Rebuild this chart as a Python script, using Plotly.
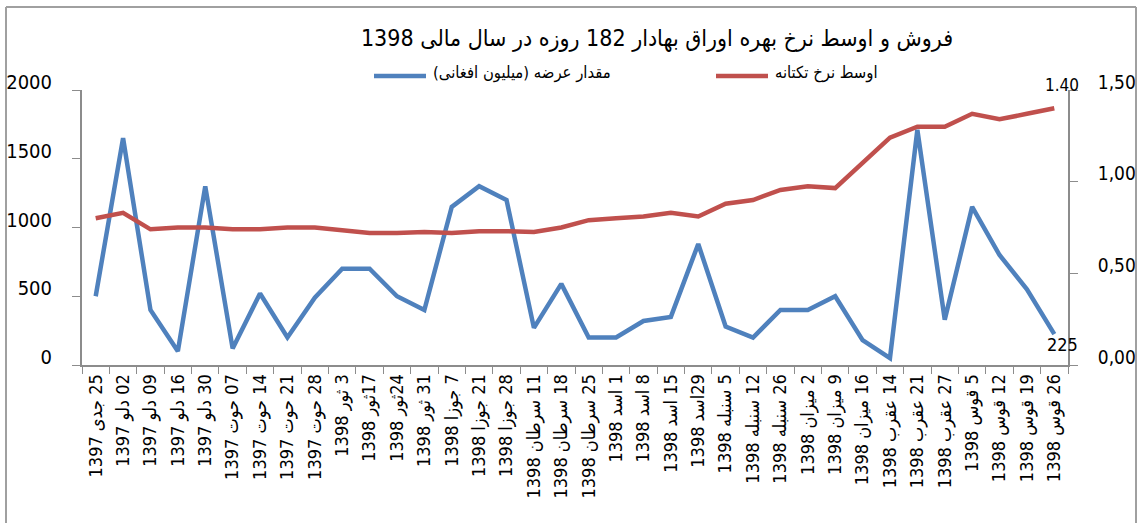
import plotly.graph_objects as go

# ── data ────────────────────────────────────────────────────────────────
dates = [
    "25 جدی 1397", "02 دلو 1397", "09 دلو 1397", "16 دلو 1397", "30 دلو 1397",
    "07 حوت 1397", "14 حوت 1397", "21 حوت 1397", "28 حوت 1397",
    "3 ثور 1398", "17ثور 1398", "24ثور 1398", "31 ثور 1398",
    "7 جوزا 1398", "21 جوزا 1398", "28 جوزا 1398",
    "11 سرطان 1398", "18 سرطان 1398", "25 سرطان 1398",
    "1 اسد 1398", "8 اسد 1398", "15 اسد 1398", "29اسد 1398",
    "5 سنبله 1398", "12 سنبله 1398", "26 سنبله 1398",
    "2 میزان 1398", "9 میزان 1398", "16 میزان 1398",
    "14 عقرب 1398", "21 عقرب 1398", "27 عقرب 1398",
    "5 قوس 1398", "12 قوس 1398", "19 قوس 1398", "26 قوس 1398",
]

offered = [  # مقدار عرضه (میلیون افغانی)
    500, 1650, 400, 100, 1300, 120, 520, 200, 490,
    700, 700, 500, 400, 1150, 1300, 1200, 270, 590,
    200, 200, 320, 350, 880, 280, 200, 400, 400,
    500, 180, 50, 1710, 330, 1150, 800, 550, 225,
]

avg_rate = [  # اوسط نرخ تکتانه
    0.80, 0.83, 0.74, 0.75, 0.75, 0.74, 0.74, 0.75, 0.75,
    0.735, 0.72, 0.72, 0.725, 0.72, 0.73, 0.73, 0.725, 0.75,
    0.79, 0.80, 0.81, 0.83, 0.81, 0.88, 0.90, 0.955, 0.975,
    0.965, 1.10, 1.24, 1.30, 1.30, 1.37, 1.34, 1.37, 1.40,
]

left_ticks = [0, 500, 1000, 1500, 2000]
right_ticks = [0, 0.5, 1.0, 1.5]
right_ticktext = ["0,00", "0,50", "1,00", "1,50"]

title_text = "فروش و اوسط نرخ بهره اوراق بهادار 182 روزه در سال مالی 1398"
name_offered = "مقدار عرضه (میلیون افغانی)"
name_rate = "اوسط نرخ تکتانه"

BLUE = "#4f81bd"
RED = "#c0504d"
AXIS = "#8c8c8c"
FONT = "DejaVu Sans Condensed, DejaVu Sans, sans-serif"

# plot area in pixels (Excel layout)
PX0, PX1, PY0, PY1 = 82, 1068, 90, 365


def px(x):
    return (x - PX0) / (PX1 - PX0)


def py(y):
    return (PY1 - y) / (PY1 - PY0)


def rtl(s):
    # wrap in a right-to-left embedding so the browser orders the runs like Excel
    return "\u202b" + s + "\u202c"


cats = [rtl(d) for d in dates]

fig = go.Figure()
fig.add_trace(go.Scatter(
    x=cats, y=offered, name=rtl(name_offered),
    mode="lines", line=dict(color=BLUE, width=4.5), yaxis="y",
))
fig.add_trace(go.Scatter(
    x=cats, y=avg_rate, name=rtl(name_rate),
    mode="lines", line=dict(color=RED, width=4.5), yaxis="y2",
))

# end-point labels
fig.add_annotation(x=cats[-1], y=avg_rate[-1], yref="y2", text="1.40",
                   showarrow=False, xanchor="left", yanchor="middle",
                   xshift=-11, yshift=23, font=dict(size=17, color="black"))
fig.add_annotation(x=cats[-1], y=offered[-1], yref="y", text=str(offered[-1]),
                   showarrow=False, xanchor="left", yanchor="middle",
                   xshift=-9, yshift=-10, font=dict(size=18, color="black"))

# legend drawn by hand (longer line keys, Excel-like spacing)
for x0, color, label in [(374, BLUE, name_offered), (716, RED, name_rate)]:
    fig.add_shape(type="line", xref="paper", yref="paper",
                  x0=px(x0), x1=px(x0 + 52), y0=py(76), y1=py(76),
                  line=dict(color=color, width=4.5))
    fig.add_annotation(xref="paper", yref="paper", x=px(x0 + 57), y=py(73),
                       text=rtl(label), showarrow=False, xanchor="left",
                       yanchor="middle", font=dict(size=16.5, color="black"))

# outer border of the chart area
for (xa, ya, xb, yb) in [(6, 7, 6, 530), (6, 7, 1136, 7), (1136, 7, 1136, 530)]:
    fig.add_shape(type="line", xref="paper", yref="paper",
                  x0=px(xa), x1=px(xb), y0=py(ya), y1=py(yb),
                  line=dict(color="#a0a0a0", width=2))

fig.update_layout(
    width=1138, height=523,
    margin=dict(l=PX0, r=1138 - PX1, t=PY0, b=523 - PY1),
    paper_bgcolor="white", plot_bgcolor="white",
    font=dict(family=FONT, color="black"),
    showlegend=False,
    title=dict(text=rtl(title_text), x=657 / 1138, xanchor="center",
               y=1 - 38 / 523, yanchor="middle",
               font=dict(size=23, color="black")),
    xaxis=dict(
        type="category", tickson="boundaries", ticks="outside", ticklen=7,
        tickcolor=AXIS, showline=True, linecolor=AXIS, linewidth=2,
        showgrid=False, tickangle=-90, tickfont=dict(size=18),
        range=[-0.5, len(dates) - 0.5], automargin=False,
    ),
    yaxis=dict(
        range=[0, 2000], tickvals=left_ticks, ticks="outside", ticklen=8,
        tickcolor=AXIS, showline=True, linecolor=AXIS, linewidth=2,
        showgrid=False, zeroline=False, tickfont=dict(size=20),
        ticklabelstandoff=16, ticklabelshift=-8, automargin=False,
    ),
    yaxis2=dict(
        range=[0, 1.5], tickvals=right_ticks, ticktext=right_ticktext,
        overlaying="y", side="right", ticks="outside", ticklen=8,
        tickcolor=AXIS, showline=True, linecolor=AXIS, linewidth=2,
        showgrid=False, zeroline=False, tickfont=dict(size=19),
        ticklabelstandoff=16, ticklabelshift=-8, automargin=False,
    ),
)

# the page's default body margin would push the 1138x523 figure off-screen
fig.write_html("out.html", config={"displayModeBar": False},
               post_script="document.body.style.margin = '0';")
